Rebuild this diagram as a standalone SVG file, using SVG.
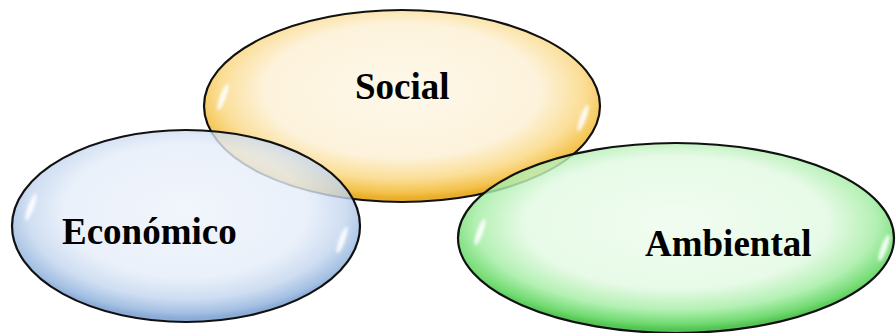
<svg xmlns="http://www.w3.org/2000/svg" width="896" height="333" viewBox="0 0 896 333">
  <defs>
    <radialGradient id="gSoc" cx="0.5" cy="0.42" r="0.56">
      <stop offset="0" stop-color="#FEF8EA"/>
      <stop offset="0.62" stop-color="#FDF3DC"/>
      <stop offset="0.82" stop-color="#FBDE97"/>
      <stop offset="0.95" stop-color="#F4C24C"/>
      <stop offset="1" stop-color="#E9AE2C"/>
    </radialGradient>
    <radialGradient id="gEco" cx="0.5" cy="0.42" r="0.56">
      <stop offset="0" stop-color="#EEF3FB"/>
      <stop offset="0.62" stop-color="#E5EDF9"/>
      <stop offset="0.82" stop-color="#C2D5EE"/>
      <stop offset="0.95" stop-color="#8DB0DC"/>
      <stop offset="1" stop-color="#6E97CC"/>
    </radialGradient>
    <radialGradient id="gAmb" cx="0.5" cy="0.42" r="0.56">
      <stop offset="0" stop-color="#EEFCEE"/>
      <stop offset="0.62" stop-color="#E2F9E2"/>
      <stop offset="0.82" stop-color="#A3EDA3"/>
      <stop offset="0.95" stop-color="#52D352"/>
      <stop offset="1" stop-color="#2FB82F"/>
    </radialGradient>
    <filter id="blur" x="-50%" y="-50%" width="200%" height="200%">
      <feGaussianBlur stdDeviation="1.5"/>
    </filter>
  </defs>
  <style>
    .shape { stroke: #111; stroke-width: 2.2; }
    .hl { fill: #FFFFFF; opacity: 0.9; filter: url(#blur); }
    .lbl { font-family: "Liberation Serif", "Times New Roman", serif; font-weight: bold; font-size: 37px; fill: #000; }
  </style>
  <g id="social">
    <ellipse class="shape" cx="402" cy="106" rx="198" ry="96" fill="url(#gSoc)"/>
    <ellipse class="hl" cx="223" cy="97" rx="3" ry="14" transform="rotate(20 223 97)"/>
    <ellipse class="hl" cx="583" cy="118" rx="3" ry="14" transform="rotate(20 583 118)"/>
    <text class="lbl" x="355" y="99">Social</text>
  </g>
  <g id="economico">
    <ellipse class="shape" cx="186" cy="226" rx="174" ry="96" fill="url(#gEco)" fill-opacity="0.8"/>
    <ellipse class="hl" cx="31" cy="207" rx="3" ry="14" transform="rotate(20 31 207)"/>
    <ellipse class="hl" cx="342" cy="240" rx="3" ry="14" transform="rotate(20 342 240)"/>
    <text class="lbl" x="62" y="244">Económico</text>
  </g>
  <g id="ambiental">
    <ellipse class="shape" cx="676" cy="238" rx="218" ry="95" fill="url(#gAmb)" fill-opacity="0.82"/>
    <ellipse class="hl" cx="480" cy="232" rx="3" ry="14" transform="rotate(20 480 232)"/>
    <ellipse class="hl" cx="884" cy="248" rx="3" ry="14" transform="rotate(20 884 248)"/>
    <text class="lbl" x="645" y="256">Ambiental</text>
  </g>
  <g id="connectors"></g>
</svg>
